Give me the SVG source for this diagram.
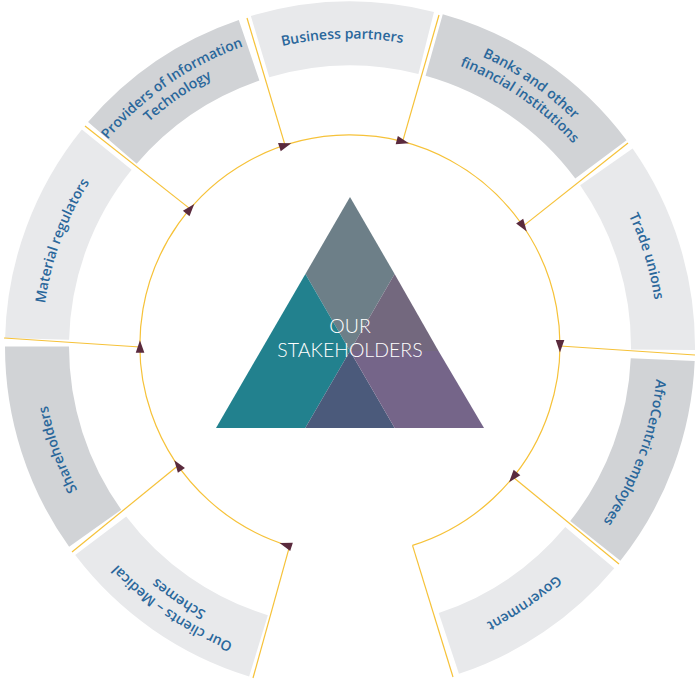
<svg xmlns="http://www.w3.org/2000/svg" xmlns:xlink="http://www.w3.org/1999/xlink" width="700" height="684" viewBox="0 0 700 684">
<style>
.seg{fill:none;stroke-width:64}
.lt{stroke:#e8e9eb}
.dk{stroke:#d1d3d6}
.lbl{font-family:"Open Sans","Liberation Sans",sans-serif;font-weight:600;font-size:14px;fill:#2a679b}
.ctr{font-family:Lato,"Liberation Sans",sans-serif;font-weight:300;font-size:19.5px;fill:#ffffff;text-anchor:middle}
.con{fill:none;stroke:#f6c239;stroke-width:1.2}
</style>
<defs>
<path id="r308" d="M 658,346.5 A 308 308 0 1 1 42,346.5 A 308 308 0 1 1 658,346.5"/>
<path id="r318" d="M 668.5,346.5 A 318.5 318.5 0 1 1 31.5,346.5 A 318.5 318.5 0 1 1 668.5,346.5"/>
<path id="r301" d="M 651.5,346.5 A 301.5 301.5 0 1 1 48.5,346.5 A 301.5 301.5 0 1 1 651.5,346.5"/>
<path id="arr" d="M6.5,0 L-6,-4.3 L-6,4.3 Z" fill="#5a2a3d"/>
</defs>
<rect width="700" height="684" fill="#ffffff"/>

<g id="providers-it">
<circle class="seg dk" cx="350" cy="346.5" r="313" pathLength="360" stroke-dasharray="30.6 400" transform="rotate(220.6 350 346.5)"/>
<text class="lbl" text-anchor="middle"><textPath xlink:href="#r318" href="#r318" startOffset="65.4%">Providers of Information</textPath></text>
<text class="lbl" text-anchor="middle"><textPath xlink:href="#r301" href="#r301" startOffset="65.4%">Technology</textPath></text>
</g>
<g id="business-partners">
<circle class="seg lt" cx="350" cy="346.5" r="313" pathLength="360" stroke-dasharray="30.8 400" transform="rotate(253.3 350 346.5)"/>
<text class="lbl" text-anchor="middle"><textPath xlink:href="#r308" href="#r308" startOffset="74.6%">Business partners</textPath></text>
</g>
<g id="banks">
<circle class="seg dk" cx="350" cy="346.5" r="313" pathLength="360" stroke-dasharray="37.7 400" transform="rotate(285.6 350 346.5)"/>
<text class="lbl" text-anchor="middle"><textPath xlink:href="#r318" href="#r318" startOffset="84.6%">Banks and other</textPath></text>
<text class="lbl" text-anchor="middle"><textPath xlink:href="#r301" href="#r301" startOffset="84.6%">financial institutions</textPath></text>
</g>
<g id="trade-unions">
<circle class="seg lt" cx="350" cy="346.5" r="313" pathLength="360" stroke-dasharray="35.6 400" transform="rotate(325 350 346.5)"/>
<text class="lbl" text-anchor="middle"><textPath xlink:href="#r308" href="#r308" startOffset="95.3%">Trade unions</textPath></text>
</g>
<g id="employees">
<circle class="seg dk" cx="350" cy="346.5" r="313" pathLength="360" stroke-dasharray="36 400" transform="rotate(2.4 350 346.5)"/>
<text class="lbl" text-anchor="middle"><textPath xlink:href="#r308" href="#r308" startOffset="5.67%">AfroCentric employees</textPath></text>
</g>
<g id="government">
<circle class="seg lt" cx="350" cy="346.5" r="313" pathLength="360" stroke-dasharray="31.6 400" transform="rotate(40 350 346.5)"/>
<text class="lbl" text-anchor="middle"><textPath xlink:href="#r308" href="#r308" startOffset="15.5%">Government</textPath></text>
</g>
<g id="clients">
<circle class="seg lt" cx="350" cy="346.5" r="313" pathLength="360" stroke-dasharray="35.8 400" transform="rotate(107 350 346.5)"/>
<text class="lbl" text-anchor="middle"><textPath xlink:href="#r318" href="#r318" startOffset="34.5%">Our clients – Medical</textPath></text>
<text class="lbl" text-anchor="middle"><textPath xlink:href="#r301" href="#r301" startOffset="34.5%">Schemes</textPath></text>
</g>
<g id="shareholders">
<circle class="seg dk" cx="350" cy="346.5" r="313" pathLength="360" stroke-dasharray="35.5 400" transform="rotate(144.5 350 346.5)"/>
<text class="lbl" text-anchor="middle"><textPath xlink:href="#r308" href="#r308" startOffset="44.6%">Shareholders</textPath></text>
</g>
<g id="material-regulators">
<circle class="seg lt" cx="350" cy="346.5" r="313" pathLength="360" stroke-dasharray="37.6 400" transform="rotate(181.4 350 346.5)"/>
<text class="lbl" text-anchor="middle"><textPath xlink:href="#r308" href="#r308" startOffset="55.6%">Material regulators</textPath></text>
</g>

<g id="center">
<polygon points="350,197 394.6,274 350,351 305.4,274" fill="#6d7f88"/>
<polygon points="305.4,274 350,351 305.3,428 216,428" fill="#22818e"/>
<polygon points="350,351 394.7,428 305.3,428" fill="#4b5a7b"/>
<polygon points="394.6,274 438.5,351 350,351" fill="#73687e"/>
<polygon points="350,351 438.5,351 484,428 394.7,428" fill="#756589"/>
<text class="ctr" x="350" y="332.7">OUR</text>
<text class="ctr" x="350" y="356.7">STAKEHOLDERS</text>
</g>

<g id="connectors">
<path class="con" d="M 289.6,546.1 A 210 210 0 1 1 412.5,545.4"/>
<line class="con" x1="190.1" y1="208.9" x2="85" y2="126"/>
<line class="con" x1="285.1" y1="145.3" x2="247" y2="18"/>
<line class="con" x1="402.6" y1="141.7" x2="439" y2="15"/>
<line class="con" x1="523.1" y1="226.1" x2="628" y2="143"/>
<line class="con" x1="560" y1="346" x2="695" y2="355"/>
<line class="con" x1="513.2" y1="477.2" x2="619" y2="564"/>
<line class="con" x1="412.5" y1="545.4" x2="453" y2="677"/>
<line class="con" x1="289.6" y1="546.1" x2="253" y2="678"/>
<line class="con" x1="178.5" y1="465.3" x2="72" y2="552"/>
<line class="con" x1="140" y1="347" x2="4" y2="338"/>
<use href="#arr" xlink:href="#arr" transform="rotate(220.4 350 345) translate(560 345) rotate(90)"/>
<use href="#arr" xlink:href="#arr" transform="rotate(252 350 345) translate(560 345) rotate(90)"/>
<use href="#arr" xlink:href="#arr" transform="rotate(284.5 350 345) translate(560 345) rotate(90)"/>
<use href="#arr" xlink:href="#arr" transform="rotate(325.5 350 345) translate(560 345) rotate(90)"/>
<use href="#arr" xlink:href="#arr" transform="rotate(0.3 350 345) translate(560 345) rotate(90)"/>
<use href="#arr" xlink:href="#arr" transform="rotate(39 350 345) translate(560 345) rotate(90)"/>
<use href="#arr" xlink:href="#arr" transform="rotate(107.8 350 345) translate(560 345) rotate(90)"/>
<use href="#arr" xlink:href="#arr" transform="rotate(145 350 345) translate(560 345) rotate(90)"/>
<use href="#arr" xlink:href="#arr" transform="rotate(179.5 350 345) translate(560 345) rotate(90)"/>
</g>
</svg>
